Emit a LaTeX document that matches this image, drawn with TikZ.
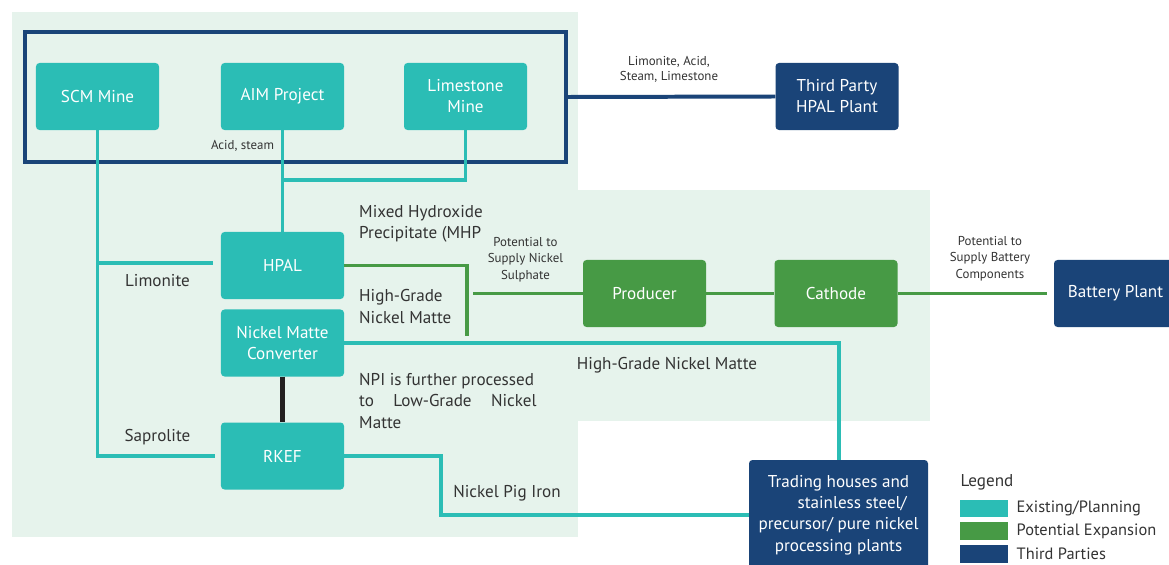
\documentclass[tikz,border=0pt]{standalone}
\usepackage{fontspec}
\setmainfont{PT Sans}
\usepackage{xcolor}
\usetikzlibrary{positioning}
\definecolor{minty}{HTML}{E6F3EC}
\definecolor{tealbox}{HTML}{2BBDB5}
\definecolor{greenbox}{HTML}{479A45}
\definecolor{navybox}{HTML}{1A4478}
\definecolor{inkgrey}{HTML}{333333}
\definecolor{linkblack}{HTML}{231F20}

\begin{document}
\begin{tikzpicture}[x=0.03cm,y=-0.03cm,
  box/.style={rounded corners=3pt,minimum width=3.69cm,minimum height=2.01cm,inner sep=0pt,align=center,text=white,font=\fontsize{14.6}{18}\selectfont},
  exist/.style={box,fill=tealbox},
  expand/.style={box,fill=greenbox},
  third/.style={box,fill=navybox},
  tline/.style={draw=tealbox,line width=3.4pt},
  gline/.style={draw=greenbox,line width=3.4pt},
  lab/.style={text=inkgrey,font=\fontsize{14.6}{18}\selectfont,inner sep=0pt,align=left},
  smalllab/.style={text=inkgrey,font=\fontsize{11}{14}\selectfont,inner sep=0pt,align=center},
  swatch/.style={minimum width=1.44cm,minimum height=0.52cm,inner sep=0pt}]
\useasboundingbox (0,0) rectangle (1169,565);
\fill[minty] (12,12) rectangle (578,537);
\fill[minty] (577,190) rectangle (930,421);

\node[draw=navybox,line width=3.4pt,minimum width=16.23cm,minimum height=3.9cm,inner sep=0pt] (frame) at (295.5,97) {};
\node[exist] (scm) at (97.5,96.5) {SCM Mine};
\node[exist] (aim) at (282.5,96.5) {AIM Project};
\node[exist] (lime) at (465.5,96.5) {Limestone\\Mine};
\node[third] (thp) at (837,96.5) {Third Party\\HPAL Plant};
\node[exist] (hpal) at (282.5,265.5) {HPAL};
\node[exist] (conv) at (282.5,343) {Nickel Matte\\Converter};
\node[exist] (rkef) at (282.5,456) {RKEF};
\node[expand] (prod) at (644.5,293.5) {Producer};
\node[expand] (cath) at (836,293.5) {Cathode};
\node[third] (bat) at (1115.5,293.5) {Battery Plant};
\node[third,minimum width=5.37cm,minimum height=3.3cm,font=\fontsize{14.6}{18.3}\selectfont] (trade) at (838.5,515) {Trading houses and\\\hspace*{1.6em}stainless steel/\\precursor/ pure nickel\\processing plants};

\coordinate (limj) at (97.5,263);
\coordinate (aimj) at (282.5,180);
\coordinate (gdrop) at (467,336);
\coordinate (gsplit) at (473,293.5);
\coordinate (npij) at (441,456);

\draw[tline] (scm.south) |- (rkef.west) [shorten >=5pt];
\draw[tline,shorten >=7pt] (limj) -- (limj -| hpal.west);
\draw[tline] (aim.south) -- (hpal.north);
\draw[tline] (lime.south) |- (aimj);
\draw[draw=navybox,line width=3.4pt] (frame.east) -- (thp.west);
\draw[gline] (hpal.east) -| (gdrop);
\draw[gline] (gsplit) -- (prod.west);
\draw[gline] (prod.east) -- (cath.west);
\draw[gline,shorten >=6pt] (cath.east) -- (bat.west);
\draw[tline] (conv.east) -| (trade.north);
\draw[tline] (rkef.east) -- (npij) |- (trade.west);
\draw[draw=linkblack,line width=4pt] (conv.south) -- (rkef.north);

\node[smalllab] (acid) at (242.5,146) {Acid, steam};
\node[smalllab,font=\fontsize{11}{12.8}\selectfont] (feed) at (669,69.5) {Limonite, Acid,\\Steam, Limestone};
\node[smalllab] (sulph) at (525.5,259.5) {Potential to\\Supply Nickel\\Sulphate};
\node[smalllab] (comp) at (990,258.5) {Potential to\\Supply Battery\\Components};
\node[lab] (limo) at (157.5,281) {Limonite};
\node[lab] (sapro) at (157.5,437) {Saprolite};
\node[lab,anchor=west] (mhp) at (359,223.5) {Mixed Hydroxide\\Precipitate (MHP};
\node[lab,anchor=west] (hgnm) at (359,306.5) {High-Grade\\Nickel Matte};
\node[lab,anchor=west] (npi) at (359,401) {NPI is further processed\\\makebox[5.32cm][s]{to Low-Grade Nickel}\\Matte};
\node[lab] (hgnm2) at (667,365) {High-Grade Nickel Matte};
\node[lab] (pig) at (507,493) {Nickel Pig Iron};

\node[lab] (legend) at (987,482) {Legend};
\node[swatch,fill=tealbox] (lg1) at (984,508.5) {};
\node[swatch,fill=greenbox] (lg2) at (984,531) {};
\node[swatch,fill=navybox] (lg3) at (984,554) {};
\node[lab,font=\fontsize{14}{16}\selectfont,right=7pt of lg1] (lt1) {Existing/Planning};
\node[lab,font=\fontsize{14}{16}\selectfont,right=7pt of lg2] (lt2) {Potential Expansion};
\node[lab,font=\fontsize{14}{16}\selectfont,right=7pt of lg3] (lt3) {Third Parties};
\end{tikzpicture}
\end{document}
